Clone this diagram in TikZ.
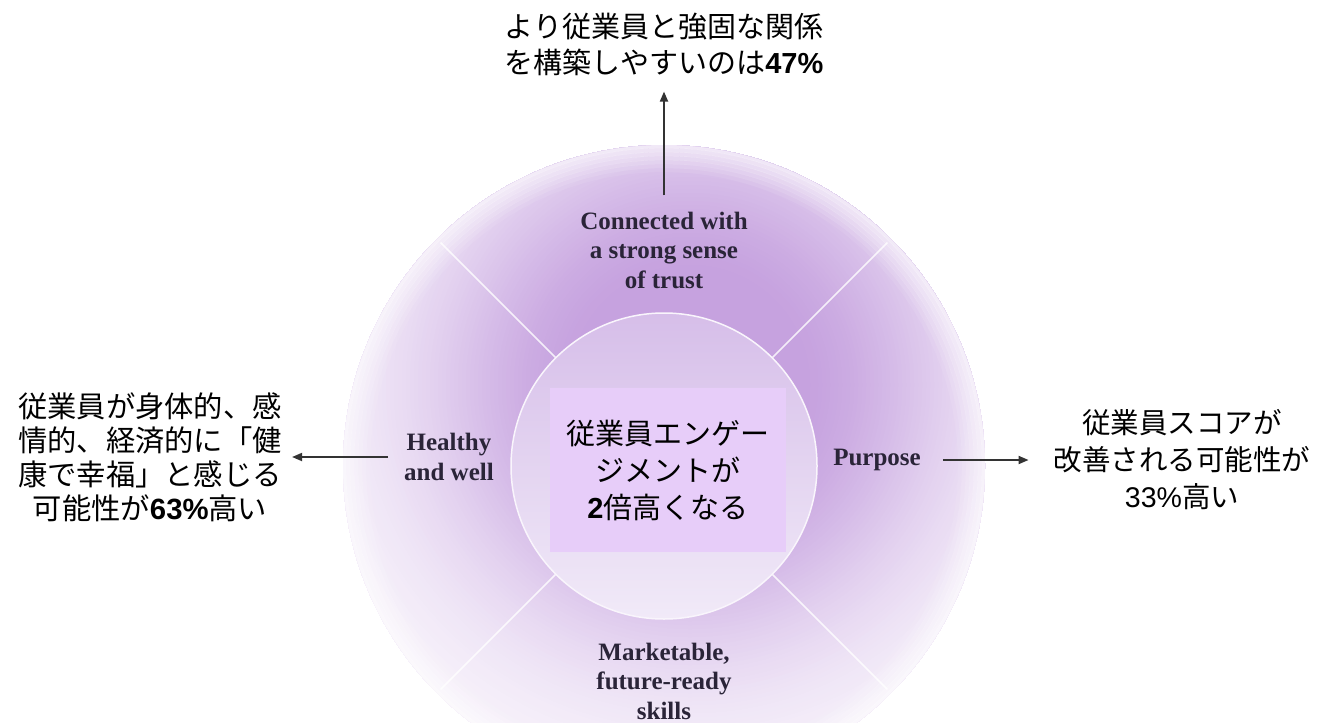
\documentclass[tikz,border=0pt]{standalone}
\usepackage{fontspec}
\setmainfont{Liberation Serif}
\newfontfamily\jp{Noto Sans CJK JP}
\newfontfamily\ar{Liberation Sans}
\usetikzlibrary{arrows.meta,calc}
\definecolor{haloA}{HTML}{C6A2DF}
\definecolor{innerTop}{HTML}{D6BEE9}
\definecolor{innerBot}{HTML}{F1EAF8}
\definecolor{boxfill}{HTML}{E7CDF9}
\definecolor{labelc}{HTML}{2A2438}
\definecolor{arrowc}{HTML}{333333}
\tikzset{
  jptext/.style={align=center, inner sep=0pt, text=black},
  lab/.style={align=center, inner sep=0pt, text=labelc, font=\bfseries\fontsize{25bp}{29.5bp}\selectfont},
  arr/.style={draw=arrowc, line width=1.8bp, -{Triangle[length=10bp,width=8bp]}},
  divider/.style={draw=white, line width=1.6bp, opacity=0.8}
}
\begin{document}
\begin{tikzpicture}[x=1bp,y=-1bp]
\fill[white] (0,0) rectangle (1322,722);
\useasboundingbox (0,0) rectangle (1322,722);
\coordinate (c) at (664,466);
\coordinate (hc) at (690,385);
% halo
\begin{scope}
\clip (c) circle[radius=321];
\foreach \r in {480,476,...,100}{
  \pgfmathsetmacro{\p}{8+92*exp(-(pow(max(\r-110,1)/170,1.8)))}
  \fill[haloA!\p!white] (hc) circle[radius=\r];
}
\foreach \r in {296,300,...,320}{
  \pgfmathsetmacro{\o}{0.08+(\r-296)/24*0.5}
  \draw[white, opacity=\o, line width=4.2bp] (c) circle[radius=\r];
}
\end{scope}
\foreach \a in {45,135,225,315}{
  \draw[divider] ($(c)+(\a:153)$) -- ($(c)+(\a:316)$);
}
\shade[top color=innerTop, bottom color=innerBot, draw=white!85!innerTop, line width=1.5bp] (c) circle[radius=153];
% labels
\node[lab] (conn) at (664,250) {Connected with\\a strong sense\\of trust};
\node[lab] (healthy) at (449,457) {Healthy\\and well};
\node[lab] (purpose) at (877,460) {Purpose};
\node[lab] (market) at (664,681) {Marketable,\\future-ready\\skills};
% center box
\node[jptext, fill=boxfill, minimum width=236bp, minimum height=164bp, font=\jp\fontsize{29bp}{37bp}\selectfont] (center) at (668,470) {従業員エンゲー\\ジメントが\\{\ar\bfseries 2}倍高くなる};
% outer texts
\node[jptext, font=\jp\fontsize{29bp}{36bp}\selectfont] (top) at (664,44) {より従業員と強固な関係\\を構築しやすいのは{\ar\bfseries 47\%}};
\node[jptext, font=\jp\fontsize{29.3bp}{34bp}\selectfont] (lt) at (150,457) {従業員が身体的、感\\情的、経済的に「健\\康で幸福」と感じる\\可能性が{\ar\bfseries 63\%}高い};
\node[jptext, font=\jp\fontsize{28.5bp}{37bp}\selectfont] (rt) at (1182,460) {従業員スコアが\\改善される可能性が\\{\ar 33\%}高い};
% arrows
\draw[arr, shorten <=16bp, shorten >=16bp] (conn.north) -- (top.south);
\draw[arr, shorten <=16bp, shorten >=10bp] (healthy.west) -- (lt.east |- healthy.west);
\draw[arr, shorten <=22bp, shorten >=25bp] (purpose.east) -- (rt.west |- purpose.east);
\end{tikzpicture}
\end{document}
